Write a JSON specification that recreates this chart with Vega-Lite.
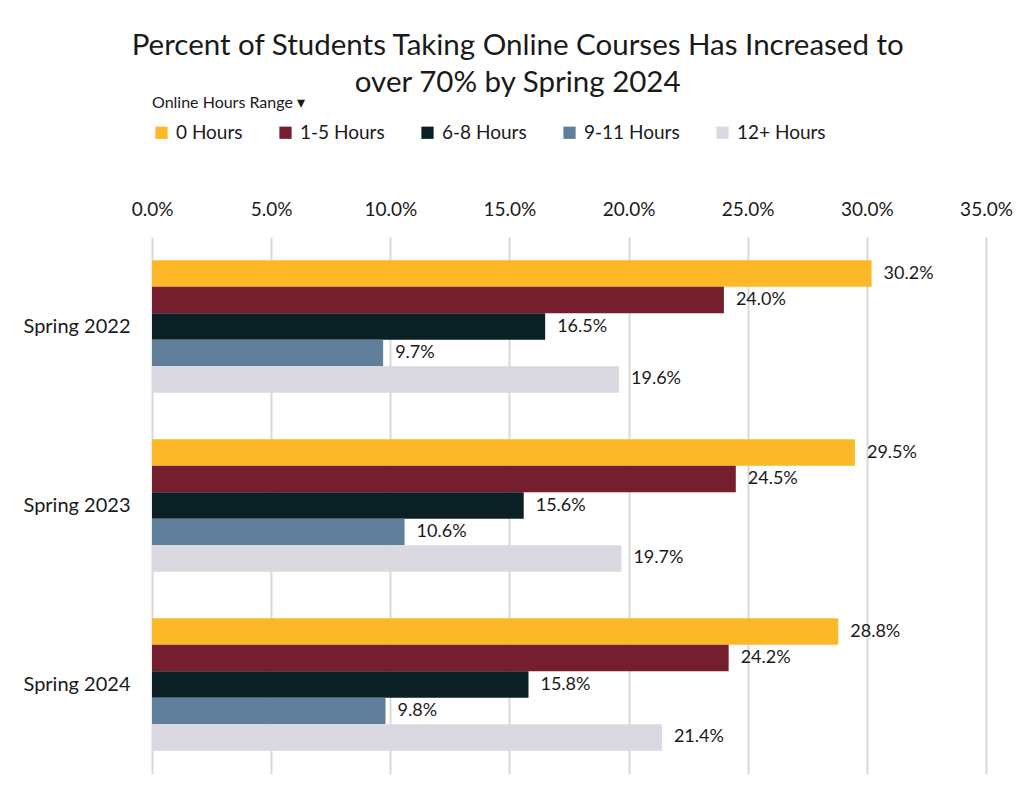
{
  "$schema": "https://vega.github.io/schema/vega-lite/v6.json",
  "width": 834,
  "height": 537,
  "autosize": {"type": "none"},
  "padding": {"left": 152, "top": 237, "right": 31, "bottom": 19},
  "background": "white",
  "config": {
    "font": "Lato",
    "view": {"stroke": null}
  },
  "title": {
    "text": ["Percent of Students Taking Online Courses Has Increased to", "over 70% by Spring 2024"],
    "fontSize": 29.5,
    "fontWeight": "normal",
    "color": "#1a1a1a",
    "lineHeight": 37,
    "anchor": "middle",
    "frame": "bounds",
    "offset": -3
  },
  "data": {
    "values": [
      {"term": "Spring 2022", "hours": "0 Hours", "pct": 0.302},
      {"term": "Spring 2022", "hours": "1-5 Hours", "pct": 0.240},
      {"term": "Spring 2022", "hours": "6-8 Hours", "pct": 0.165},
      {"term": "Spring 2022", "hours": "9-11 Hours", "pct": 0.097},
      {"term": "Spring 2022", "hours": "12+ Hours", "pct": 0.196},
      {"term": "Spring 2023", "hours": "0 Hours", "pct": 0.295},
      {"term": "Spring 2023", "hours": "1-5 Hours", "pct": 0.245},
      {"term": "Spring 2023", "hours": "6-8 Hours", "pct": 0.156},
      {"term": "Spring 2023", "hours": "9-11 Hours", "pct": 0.106},
      {"term": "Spring 2023", "hours": "12+ Hours", "pct": 0.197},
      {"term": "Spring 2024", "hours": "0 Hours", "pct": 0.288},
      {"term": "Spring 2024", "hours": "1-5 Hours", "pct": 0.242},
      {"term": "Spring 2024", "hours": "6-8 Hours", "pct": 0.158},
      {"term": "Spring 2024", "hours": "9-11 Hours", "pct": 0.098},
      {"term": "Spring 2024", "hours": "12+ Hours", "pct": 0.214}
    ]
  },
  "encoding": {
    "y": {
      "field": "term",
      "type": "nominal",
      "scale": {"paddingInner": 0.26, "paddingOuter": 0.13},
      "axis": {
        "title": null,
        "domain": false,
        "ticks": false,
        "labelFontSize": 20,
        "labelColor": "#1a1a1a",
        "labelPadding": 22
      }
    },
    "yOffset": {
      "field": "hours",
      "type": "nominal",
      "sort": ["0 Hours", "1-5 Hours", "6-8 Hours", "9-11 Hours", "12+ Hours"],
      "scale": {"paddingInner": 0, "paddingOuter": 0}
    },
    "x": {
      "field": "pct",
      "type": "quantitative",
      "scale": {"domain": [0, 0.35]},
      "axis": {
        "orient": "top",
        "title": null,
        "values": [0, 0.05, 0.10, 0.15, 0.20, 0.25, 0.30, 0.35],
        "format": ".1%",
        "domain": false,
        "ticks": false,
        "labelFontSize": 19,
        "labelColor": "#1a1a1a",
        "labelPadding": 18,
        "gridColor": "#d9d9d9",
        "gridWidth": 2,
        "labelFlush": false
      }
    }
  },
  "layer": [
    {
      "mark": {"type": "bar"},
      "encoding": {
        "color": {
          "field": "hours",
          "type": "nominal",
          "sort": ["0 Hours", "1-5 Hours", "6-8 Hours", "9-11 Hours", "12+ Hours"],
          "scale": {
            "domain": ["0 Hours", "1-5 Hours", "6-8 Hours", "9-11 Hours", "12+ Hours"],
            "range": ["#fdb827", "#751f2e", "#0a2024", "#5f7f9a", "#dad8e0"]
          },
          "legend": {
            "orient": "top",
            "direction": "horizontal",
            "title": "Online Hours Range  ▾",
            "titleFontSize": 16,
            "titleFontWeight": "normal",
            "titleColor": "#1a1a1a",
            "titlePadding": 12,
            "labelFontSize": 19,
            "labelColor": "#1a1a1a",
            "symbolType": "square",
            "symbolSize": 150,
            "symbolStrokeWidth": 0,
            "columnPadding": 33,
            "labelOffset": 5,
            "offset": 57
          }
        }
      }
    },
    {
      "mark": {"type": "text", "align": "left", "baseline": "middle", "dx": 12, "fontSize": 18, "color": "#1a1a1a"},
      "encoding": {
        "text": {"field": "pct", "type": "quantitative", "format": ".1%"},
        "color": {"value": "#1a1a1a"}
      }
    }
  ]
}
